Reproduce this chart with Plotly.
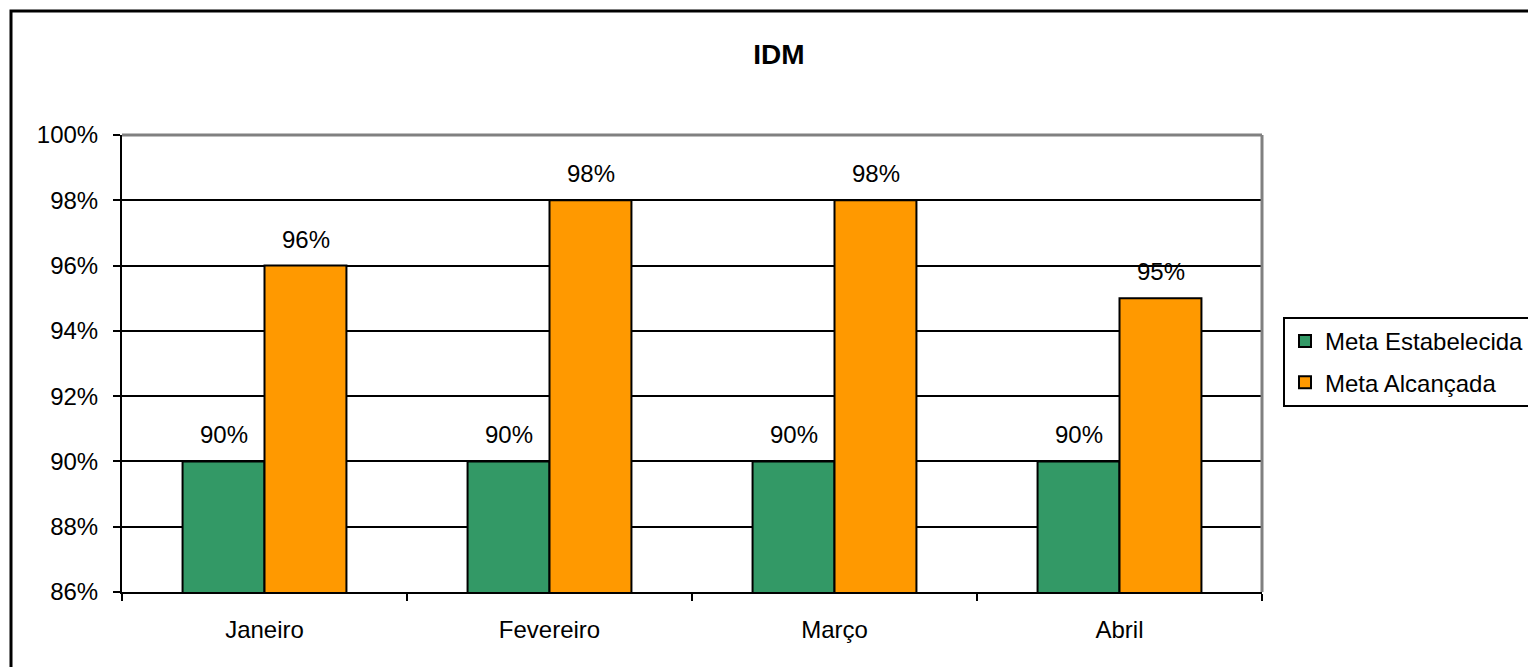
import plotly.graph_objects as go

# data
meses = ["Janeiro", "Fevereiro", "Março", "Abril"]
meta_estabelecida = [0.90, 0.90, 0.90, 0.90]
meta_alcancada = [0.96, 0.98, 0.98, 0.95]
y_ticks = [0.86, 0.88, 0.90, 0.92, 0.94, 0.96, 0.98, 1.00]

FONT = "Liberation Sans, Arial, sans-serif"
VERDE = "#339966"
LARANJA = "#FF9900"

# the page puts the figure 8px in from the top-left corner
OFF = 8
PLOT_L, PLOT_R, PLOT_T, PLOT_B = 122 - OFF, 1262 - OFF, 135 - OFF, 592 - OFF
W, H = 1536, 667
PW, PH = PLOT_R - PLOT_L, PLOT_B - PLOT_T

fig = go.Figure()
fig.add_trace(go.Bar(
    x=meses, y=meta_estabelecida, name="Meta Estabelecida", legendgroup="a",
    marker=dict(color=VERDE, line=dict(color="black", width=2)),
))
fig.add_trace(go.Bar(
    x=meses, y=meta_alcancada, name="Meta Alcançada", legendgroup="b",
    marker=dict(color=LARANJA, line=dict(color="black", width=2)),
))

# value labels above each bar
for serie, shift in [(meta_estabelecida, -41), (meta_alcancada, 41)]:
    for m, v in zip(meses, serie):
        fig.add_annotation(
            x=m, y=v, text=f"{v:.0%}", showarrow=False,
            xshift=shift, yshift=11, yanchor="bottom",
            font=dict(family=FONT, size=24, color="black"),
        )

fig.update_layout(
    width=W, height=H,
    margin=dict(l=PLOT_L, r=W - PLOT_R, t=PLOT_T, b=H - PLOT_B, autoexpand=False),
    paper_bgcolor="white", plot_bgcolor="white",
    font=dict(family=FONT, size=24, color="black"),
    barmode="group", bargap=0.425, bargroupgap=0,
    title=dict(text="<b>IDM</b>", x=(779 - OFF) / W, xanchor="center",
               y=1 - (54 - OFF) / H, yanchor="middle",
               font=dict(family=FONT, size=28, color="black")),
    legend=dict(
        x=(1283 - OFF - PLOT_L) / PW, xanchor="left",
        y=(PLOT_B - (362 - OFF)) / PH, yanchor="middle",
        bordercolor="black", borderwidth=2, bgcolor="white",
        font=dict(family=FONT, size=24, color="black"),
        tracegroupgap=7, itemwidth=30, traceorder="grouped",
    ),
    showlegend=True,
)

fig.update_yaxes(
    range=[0.86, 1.00], tickvals=y_ticks, tickformat=".0%",
    showgrid=True, gridcolor="black", gridwidth=2,
    showline=True, linecolor="black", linewidth=2,
    ticks="outside", ticklen=7, tickwidth=2, tickcolor="black",
    ticklabelstandoff=10, zeroline=False,
)
fig.update_xaxes(
    showline=True, linecolor="black", linewidth=2,
    ticks="outside", tickson="boundaries", ticklen=7, tickwidth=2,
    tickcolor="black", showgrid=False, ticklabelstandoff=15,
)

# grey top/right edges of the plot area
fig.add_shape(type="line", xref="paper", yref="paper", x0=0, x1=1, y0=1, y1=1,
              line=dict(color="#808080", width=3), layer="above")
fig.add_shape(type="line", xref="paper", yref="paper", x0=1, x1=1, y0=0, y1=1,
              line=dict(color="#808080", width=3), layer="above")

# outer chart border (right and bottom fall outside the picture)
fig.add_shape(type="rect", xref="paper", yref="paper",
              x0=(11 - OFF - PLOT_L) / PW, x1=1.4,
              y0=-0.3, y1=(PLOT_B - (11 - OFF)) / PH,
              line=dict(color="black", width=3), layer="below")

fig.write_html("out.html")
